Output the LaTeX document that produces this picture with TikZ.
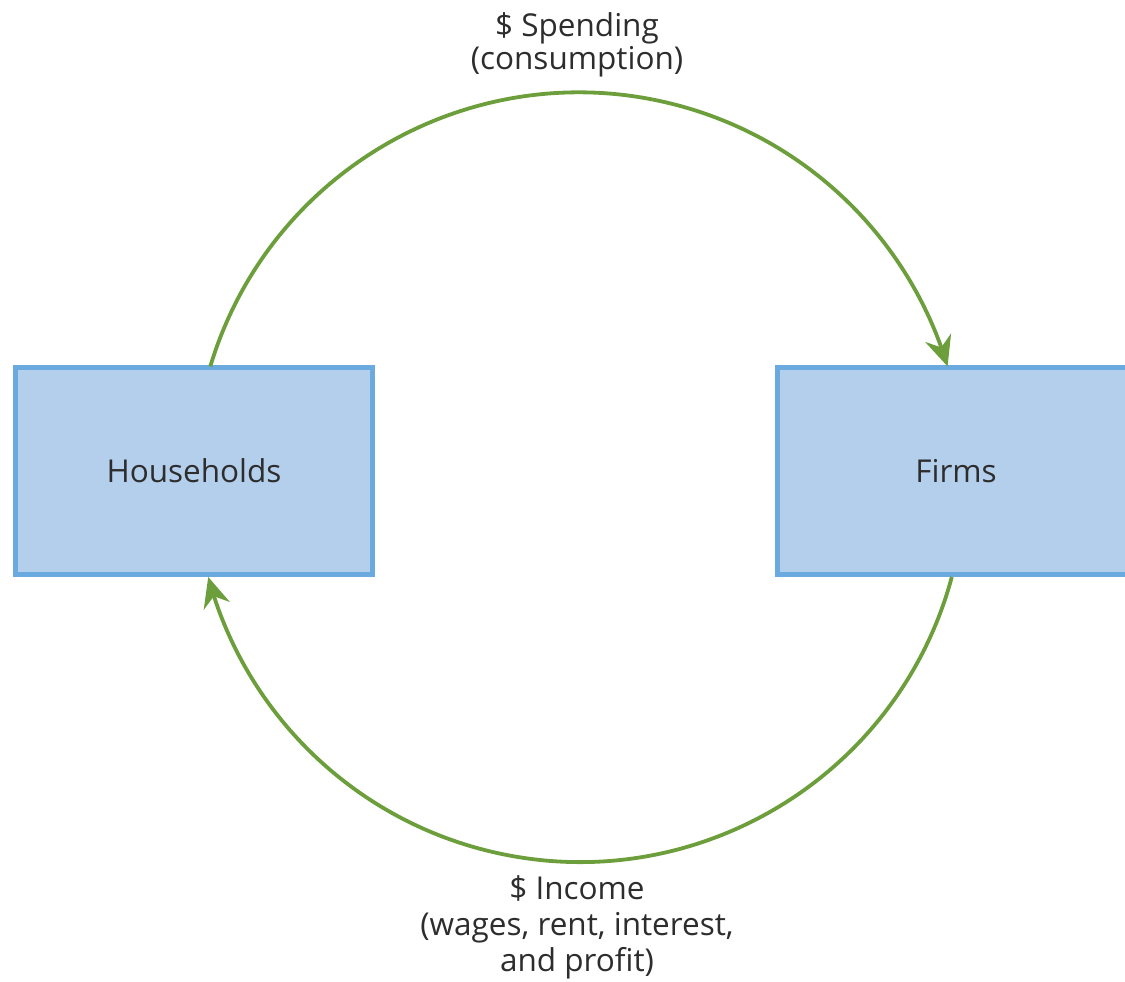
\documentclass[tikz,border=0pt]{standalone}
\usepackage{fontspec}
\setmainfont{Open Sans}
\usetikzlibrary{arrows.meta,bending}
\definecolor{boxline}{RGB}{106,170,223}
\definecolor{boxfill}{RGB}{180,207,236}
\definecolor{flowgreen}{RGB}{108,158,60}
\definecolor{txt}{RGB}{45,45,45}
\tikzset{
  sector/.style={draw=boxline, fill=boxfill, line width=5pt, minimum width=357pt, minimum height=207pt, inner sep=0pt, text=txt, font=\fontsize{31.5}{36}\selectfont},
  flow/.style={draw=flowgreen, line width=3.8pt, -{Stealth[length=30pt,width=27pt,inset=10pt,flex]}},
  flowlabel/.style={text=txt, align=center, inner sep=0pt}
}
\begin{document}
\begin{tikzpicture}[x=1pt,y=1pt]
\useasboundingbox (0,0) rectangle (1125,982);
\clip (0,0) rectangle (1125,982);
\node[sector] (hh) at (194,511) {Households};
\node[sector] (fm) at (956,511) {Firms};
\draw[flow] ([xshift=16.3pt,yshift=-1.4pt]hh.north) arc[start angle=163.24, end angle=16.76, radius=385];
\draw[flow] ([xshift=-4.2pt]fm.south) arc[start angle=-15.05, end angle=-164.95, radius=385];
\node[flowlabel, font=\fontsize{31.5}{33}\selectfont, anchor=base] (spend) at (577,912) {\$ Spending\\(consumption)};
\node[flowlabel, font=\fontsize{31.5}{36}\selectfont, anchor=base] (inc) at (577,10) {\$ Income\\(wages, rent, interest,\\and profit)};
\end{tikzpicture}
\end{document}
